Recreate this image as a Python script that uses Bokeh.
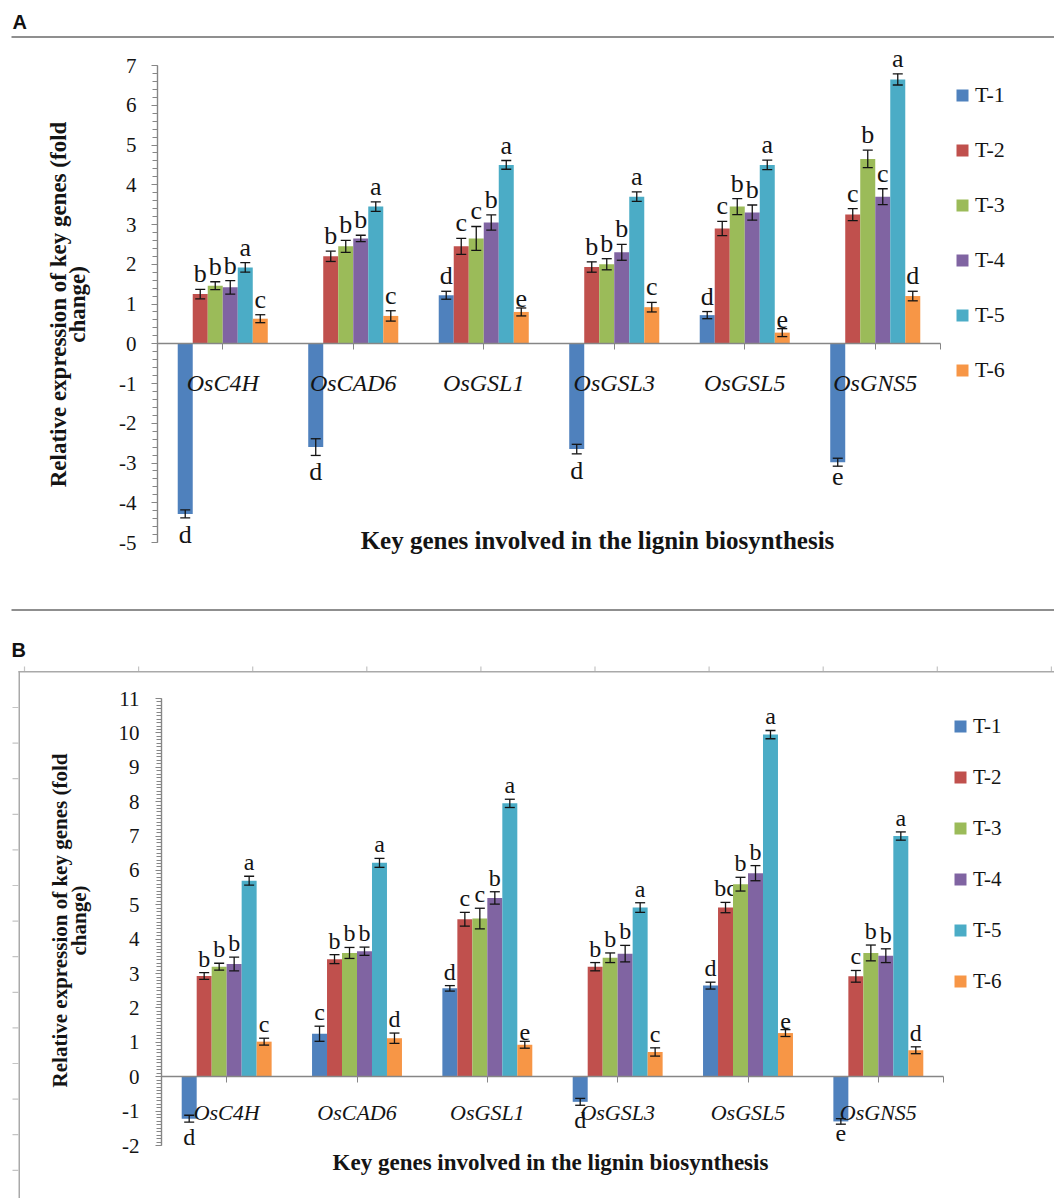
import math

from bokeh.core.properties import value
from bokeh.embed import file_html
from bokeh.layouts import column
from bokeh.models import (BoxAnnotation, ColumnDataSource, FixedTicker, Label,
                          Legend, LegendItem, Range1d, TeeHead, Whisker)
from bokeh.plotting import figure
from bokeh.resources import INLINE
from bokeh.transform import dodge

genes = ["OsC4H", "OsCAD6", "OsGSL1", "OsGSL3", "OsGSL5", "OsGNS5"]
treatments = ["T-1", "T-2", "T-3", "T-4", "T-5", "T-6"]
colors = ["#4F81BD", "#C0504D", "#9BBB59", "#8064A2", "#4BACC6", "#F79646"]

# Panel A: fold change of each gene under treatments T-1 ... T-6
a_t1 = [-4.28, -2.60, 1.22, -2.65, 0.72, -2.98]
a_t2 = [1.25, 2.20, 2.45, 1.93, 2.90, 3.25]
a_t3 = [1.46, 2.45, 2.65, 2.00, 3.45, 4.65]
a_t4 = [1.42, 2.65, 3.05, 2.30, 3.30, 3.70]
a_t5 = [1.92, 3.45, 4.50, 3.70, 4.50, 6.65]
a_t6 = [0.63, 0.70, 0.80, 0.92, 0.28, 1.20]
# standard errors
a_e1 = [0.10, 0.21, 0.10, 0.12, 0.09, 0.10]
a_e2 = [0.12, 0.13, 0.20, 0.13, 0.18, 0.15]
a_e3 = [0.10, 0.15, 0.30, 0.14, 0.20, 0.22]
a_e4 = [0.17, 0.08, 0.19, 0.20, 0.19, 0.20]
a_e5 = [0.12, 0.12, 0.11, 0.12, 0.12, 0.14]
a_e6 = [0.10, 0.13, 0.10, 0.12, 0.10, 0.12]
# significance groups
a_l1 = ["d", "d", "d", "d", "d", "e"]
a_l2 = ["b", "b", "c", "b", "c", "c"]
a_l3 = ["b", "b", "c", "b", "b", "b"]
a_l4 = ["b", "b", "b", "b", "b", "c"]
a_l5 = ["a", "a", "a", "a", "a", "a"]
a_l6 = ["c", "c", "e", "c", "e", "d"]

# Panel B
b_t1 = [-1.22, 1.25, 2.57, -0.73, 2.65, -1.30]
b_t2 = [2.93, 3.42, 4.58, 3.20, 4.92, 2.92]
b_t3 = [3.20, 3.60, 4.60, 3.46, 5.60, 3.60]
b_t4 = [3.28, 3.65, 5.20, 3.58, 5.92, 3.52]
b_t5 = [5.70, 6.22, 7.95, 4.92, 9.95, 7.00]
b_t6 = [1.02, 1.12, 0.93, 0.72, 1.27, 0.77]
b_e1 = [0.10, 0.22, 0.08, 0.10, 0.10, 0.08]
b_e2 = [0.10, 0.13, 0.20, 0.12, 0.15, 0.17]
b_e3 = [0.10, 0.16, 0.30, 0.14, 0.20, 0.23]
b_e4 = [0.20, 0.12, 0.18, 0.24, 0.22, 0.20]
b_e5 = [0.13, 0.13, 0.12, 0.14, 0.12, 0.12]
b_e6 = [0.10, 0.15, 0.10, 0.12, 0.10, 0.10]
b_l1 = ["d", "c", "d", "d", "d", "e"]
b_l2 = ["b", "b", "c", "b", "bc", "c"]
b_l3 = ["b", "b", "c", "b", "b", "b"]
b_l4 = ["b", "b", "b", "b", "b", "b"]
b_l5 = ["a", "a", "a", "a", "a", "a"]
b_l6 = ["c", "d", "e", "c", "e", "d"]

y_title_1 = "Relative expression of key genes (fold"
y_title_2 = "change)"
x_title = "Key genes involved in the lignin biosynthesis"

SERIF = "Liberation Serif"
SANS = "Liberation Sans"
AXIS_GREY = "#868686"
INK = "#141414"
BAR_W = 0.115
PAGE_W = 1054


def add_box(p, sx, sy, x0, x1, y0, y1, color):
    """Solid rectangle in canvas pixels (y downwards)."""
    p.add_layout(BoxAnnotation(
        left=sx(x0), right=sx(x1), top=sy(y0), bottom=sy(y1),
        left_units="screen", right_units="screen", top_units="screen", bottom_units="screen",
        fill_color=color, fill_alpha=1.0, line_color=None, level="overlay"))


def build_panel(cfg, means, errs, letters):
    """One bar panel; the plot frame covers the whole canvas and the axes are pinned inside it."""
    h = cfg["h"]
    ax_x, ax_end, ax_y_top, ax_y_bot = cfg["axis_px"]      # pixel extents of the axes
    ymin, ymax = cfg["ymin"], cfg["ymax"]
    n = len(genes)
    ppx = (ax_end - ax_x) / n                              # pixels per category
    ppy = (ax_y_bot - ax_y_top) / (ymax - ymin)            # pixels per unit
    x_range = Range1d(0.5 - ax_x / ppx, 0.5 + (PAGE_W - ax_x) / ppx)
    y_range = Range1d(ymax - (h - ax_y_top) / ppy, ymax + ax_y_top / ppy)

    p = figure(width=PAGE_W, height=h, x_range=x_range, y_range=y_range, title=None,
               output_backend="svg", toolbar_location=None,
               min_border=0, min_border_left=0, min_border_right=0,
               min_border_top=0, min_border_bottom=0,
               background_fill_color="white", border_fill_color="white")
    p.outline_line_color = None
    p.xgrid.visible = False
    p.ygrid.visible = False

    def sx(px):
        return px

    def sy(py):
        return h - py

    pos = list(range(1, n + 1))
    fs = cfg["fonts"]
    bars = []
    for i in range(len(treatments)):
        v, e, lab = means[i], errs[i], letters[i]
        off = (i - 2.5) * BAR_W
        src = ColumnDataSource(dict(pos=pos, v=v,
                                    up=[a + b for a, b in zip(v, e)],
                                    lo=[a - b for a, b in zip(v, e)]))
        bars.append(p.vbar(x=dodge("pos", off), top="v", bottom=0, width=BAR_W,
                           source=src, fill_color=colors[i], line_color=None))
        head = dict(size=10, line_color=INK, line_width=1.3)
        p.add_layout(Whisker(source=src, base=dodge("pos", off),
                             upper="up", lower="lo", level="annotation",
                             line_color=INK, line_width=1.3,
                             upper_head=TeeHead(**head), lower_head=TeeHead(**head)))
        for sign in (1, -1):
            idx = [j for j in range(n) if (v[j] >= 0) == (sign > 0)]
            if not idx:
                continue
            ts = ColumnDataSource(dict(pos=[pos[j] for j in idx],
                                       y=[v[j] + sign * e[j] for j in idx],
                                       lab=[lab[j] for j in idx]))
            p.text(x=dodge("pos", off), y="y", text="lab", source=ts,
                   text_align="center",
                   text_baseline="bottom" if sign > 0 else "top",
                   y_offset=-1 if sign > 0 else 2,
                   text_font=value(SERIF), text_font_size=fs["letters"], text_color=INK)

    # value axis, pinned to the left edge of the first category
    ya = p.yaxis[0]
    ticks = list(range(ymin, ymax + 1))
    n_minor = int(round((ymax - ymin) / cfg["minor"]))
    ya.ticker = FixedTicker(ticks=ticks,
                            minor_ticks=[round(ymin + k * cfg["minor"], 3) for k in range(n_minor + 1)])
    ya.fixed_location = 0.5
    ya.bounds = (ymin, ymax)
    ya.major_label_overrides = {t: str(t) for t in ticks}
    ya.axis_line_color = AXIS_GREY
    ya.axis_line_width = 1.4
    ya.major_tick_line_color = AXIS_GREY
    ya.minor_tick_line_color = AXIS_GREY
    ya.major_tick_out, ya.major_tick_in = 6, 0
    ya.minor_tick_out, ya.minor_tick_in = 5, 0
    ya.major_label_standoff = cfg["ystandoff"]
    ya.major_label_text_font = SERIF
    ya.major_label_text_font_size = fs["ticks"]
    ya.major_label_text_color = INK

    # category axis on the zero line
    xa = p.xaxis[0]
    xa.ticker = FixedTicker(ticks=pos, minor_ticks=[0.5, n + 0.5])
    xa.major_label_overrides = {k: g for k, g in zip(pos, genes)}
    xa.fixed_location = 0
    xa.bounds = (0.5, n + 0.5)
    xa.axis_line_color = AXIS_GREY
    xa.axis_line_width = 1.4
    xa.major_tick_line_color = AXIS_GREY
    xa.minor_tick_line_color = AXIS_GREY
    xa.major_tick_out, xa.major_tick_in = 6, 0
    xa.minor_tick_out, xa.minor_tick_in = 6, 0
    xa.major_label_standoff = cfg["xstandoff"]
    xa.major_label_text_font = SERIF
    xa.major_label_text_font_style = "italic"
    xa.major_label_text_font_size = fs["genes"]
    xa.major_label_text_color = INK

    # axis titles
    for txt, xpx in ((y_title_1, cfg["ytitle_x"][0]), (y_title_2, cfg["ytitle_x"][1])):
        p.add_layout(Label(x=sx(xpx), y=sy(cfg["ytitle_y"]), x_units="screen", y_units="screen",
                           text=txt, angle=math.pi / 2, text_align="center", text_baseline="middle",
                           text_font=SERIF, text_font_style="bold",
                           text_font_size=fs["ytitle"], text_color=INK))
    p.add_layout(Label(x=sx(cfg["xtitle"][0]), y=sy(cfg["xtitle"][1]), x_units="screen", y_units="screen",
                       text=x_title, text_align="center", text_baseline="middle",
                       text_font=SERIF, text_font_style="bold",
                       text_font_size=fs["xtitle"], text_color=INK))

    # legend: entries tied to the bar renderers, colour keys as small squares
    lx, ltop = cfg["legend_px"]
    sp = cfg["legend_spacing"]
    item_h = 30
    leg_h = item_h * len(treatments) + sp * (len(treatments) - 1)
    items = [LegendItem(label=t, renderers=[r]) for t, r in zip(treatments, bars)]
    p.add_layout(Legend(items=items, location=(sx(lx), sy(ltop + leg_h)), orientation="vertical",
                        glyph_width=0, glyph_height=item_h, label_height=item_h,
                        spacing=sp, padding=0, margin=0, label_standoff=0,
                        border_line_color=None, background_fill_alpha=0,
                        label_text_font=SERIF, label_text_font_size=fs["legend"],
                        label_text_color=INK))
    kx0, kx1 = cfg["key_px"]
    for i in range(len(treatments)):
        cy = ltop + item_h / 2 + i * (item_h + sp)
        add_box(p, sx, sy, kx0, kx1, cy - (kx1 - kx0) / 2, cy + (kx1 - kx0) / 2, colors[i])

    # panel letter
    p.add_layout(Label(x=sx(cfg["letter_px"][0]), y=sy(cfg["letter_px"][1]),
                       x_units="screen", y_units="screen", text=cfg["letter"],
                       text_font=SANS, text_font_style="bold", text_font_size="20px",
                       text_color="#111111", text_baseline="middle"))
    return p, sx, sy


cfg_a = dict(h=615, axis_px=(157, 940, 65, 542), ymin=-5, ymax=7, minor=0.2,
             ystandoff=15, xstandoff=20, ytitle_x=(58, 77), ytitle_y=304,
             xtitle=(597, 540), legend_px=(975, 80), legend_spacing=25, key_px=(956, 968),
             letter="A", letter_px=(12, 21.5),
             fonts=dict(ticks="21px", genes="24px", legend="22px", letters="26px",
                        ytitle="23px", xtitle="25px"))
cfg_b = dict(h=583, axis_px=(161, 943, 83, 530), ymin=-2, ymax=11, minor=0.1,
             ystandoff=16, xstandoff=17, ytitle_x=(59, 78), ytitle_y=305,
             xtitle=(550, 547), legend_px=(973, 96), legend_spacing=21, key_px=(954, 966),
             letter="B", letter_px=(11, 34),
             fonts=dict(ticks="21px", genes="22px", legend="21px", letters="24px",
                        ytitle="21px", xtitle="23px"))

pa, sxa, sya = build_panel(cfg_a, [a_t1, a_t2, a_t3, a_t4, a_t5, a_t6],
                           [a_e1, a_e2, a_e3, a_e4, a_e5, a_e6],
                           [a_l1, a_l2, a_l3, a_l4, a_l5, a_l6])
pb, sxb, syb = build_panel(cfg_b, [b_t1, b_t2, b_t3, b_t4, b_t5, b_t6],
                           [b_e1, b_e2, b_e3, b_e4, b_e5, b_e6],
                           [b_l1, b_l2, b_l3, b_l4, b_l5, b_l6])

# rules under the "A" heading and between the two panels
add_box(pa, sxa, sya, 11, PAGE_W, 35.5, 37.5, "#8f8f8f")
add_box(pa, sxa, sya, 11, PAGE_W, 608.5, 610.5, "#8f8f8f")

# frame around panel B with its small ticks
FRAME_GREY = "#a9a9a9"
add_box(pb, sxb, syb, 18, PAGE_W, 55.5, 57, FRAME_GREY)
add_box(pb, sxb, syb, 18, 19.5, 55.5, 583, FRAME_GREY)
for k in range(14):
    yy = 92 + 35.6 * k
    add_box(pb, sxb, syb, 12, 18, yy - 0.6, yy + 0.6, "#c4c4c4")
for k in range(10):
    xx = 24 + 114.1 * k
    add_box(pb, sxb, syb, xx - 0.6, xx + 0.6, 51, 55.5, "#c4c4c4")

layout = column(pa, pb)
open("out.html", "w").write(file_html(layout, INLINE))
